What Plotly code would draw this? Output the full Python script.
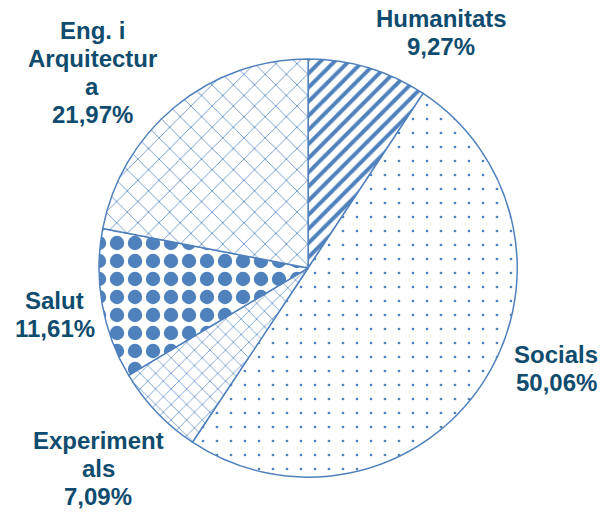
import plotly.graph_objects as go

labels = ["Humanitats", "Socials", "Experimentals", "Salut", "Eng. i Arquitectura"]
values = [9.27, 50.06, 7.09, 11.61, 21.97]
label_lines = [["Humanitats", "9,27%"], ["Socials", "50,06%"], ["Experiment", "als", "7,09%"],
               ["Salut", "11,61%"], ["Eng. i", "Arquitectur", "a", "21,97%"]]

BLUE = "#4F81BD"
TXT = "#0F4C6E"

shapes = ["/", ".", "x", ".", "x"]
sizes = [10, 14, 11, 18, 15]
solid = [0.4, 0.03, 0.12, 0.5, 0.1]

fig = go.Figure(go.Pie(
    labels=labels, values=values, sort=False, direction="clockwise", rotation=0,
    textinfo="none", hoverinfo="label+percent", showlegend=False,
    marker=dict(colors=["white"] * 5,
                line=dict(color=BLUE, width=1.5),
                pattern=dict(shape=shapes, size=sizes, solidity=solid,
                             fgcolor=BLUE, bgcolor="white", fgopacity=1, fillmode="replace")),
    domain=dict(x=[0.165, 0.862], y=[0.068, 0.885]),
))

# label block: (center x, first line y) in pixels
anchors = [(441, 18), (556, 354), (98, 440), (55, 300), (92, 30)]
LINE = 28
for lines, (px, py) in zip(label_lines, anchors):
    for i, t in enumerate(lines):
        fig.add_annotation(x=px / 600, y=1 - (py + i * LINE) / 512, xref="paper", yref="paper",
                           xanchor="center", yanchor="middle",
                           text="<b>" + t + "</b>", showarrow=False,
                           font=dict(family="Liberation Sans, Arial", size=24, color=TXT))

fig.update_layout(width=600, height=512, margin=dict(l=0, r=0, t=0, b=0),
                  paper_bgcolor="white", plot_bgcolor="white")
fig.write_html("out.html", config={"displayModeBar": False},
               post_script="document.body.style.margin='0';")
